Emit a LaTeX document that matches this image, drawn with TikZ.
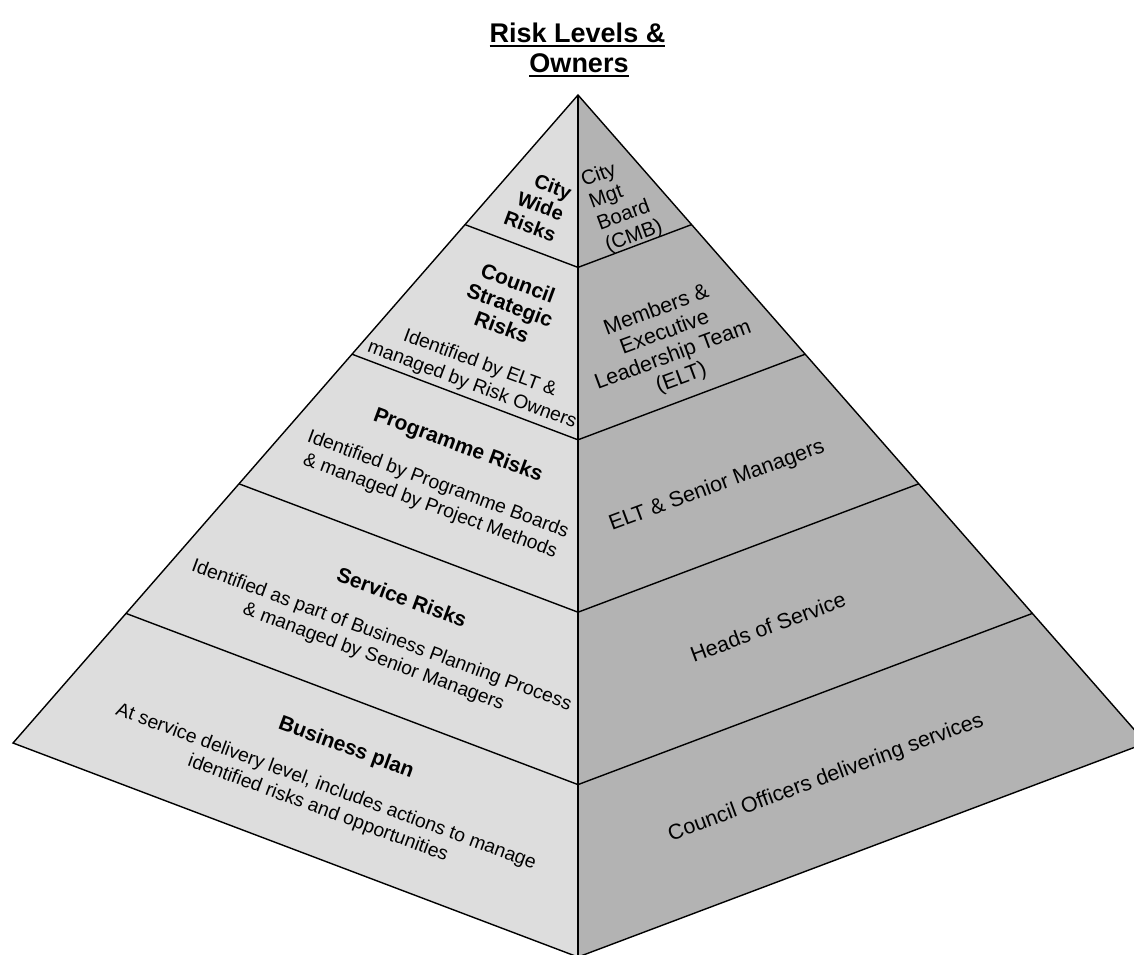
\documentclass[tikz,border=0pt]{standalone}
\usepackage{fontspec}
\setmainfont{Liberation Sans}
\usetikzlibrary{calc}

\definecolor{faceleft}{gray}{0.867}
\definecolor{faceright}{gray}{0.702}

\begin{document}
\begin{tikzpicture}[x=1pt,y=-1pt,inner sep=0pt,outer sep=0pt,
    edge_line/.style={draw=black,line width=1.4pt},
    title_txt/.style={anchor=base,font=\fontsize{27}{32}\selectfont\bfseries},
    left_head/.style={rotate=-20.3,align=center,font=\fontsize{21}{23.5}\selectfont\bfseries},
    left_text/.style={rotate=-20.3,align=center,font=\fontsize{19.3}{23}\selectfont},
    right_text/.style={rotate=20.3,align=center,font=\fontsize{21.5}{24}\selectfont}]
    \useasboundingbox (0,0) rectangle (1134,954);
    \clip (0,0) rectangle (1134,954);

    % pyramid corners
    \coordinate (apex) at (578,95);
    \coordinate (base_l) at (13,743);
    \coordinate (base_c) at (578,957);
    \coordinate (base_r) at (1146,743);

    % faces
    \fill[faceleft] (apex) -- (base_l) -- (base_c) -- cycle;
    \fill[faceright] (apex) -- (base_c) -- (base_r) -- cycle;

    % level boundaries
    \foreach \k in {1,2,3,4}
        \draw[edge_line] ($(apex)!\k/5!(base_l)$) -- ($(apex)!\k/5!(base_c)$) -- ($(apex)!\k/5!(base_r)$);
    \draw[edge_line] (apex) -- (base_l) -- (base_c) -- (base_r) -- cycle;
    \draw[edge_line] (apex) -- (base_c);

    % title
    \node[title_txt] (title_top) at (577.5,42) {Risk Levels \&};
    \node[title_txt] (title_bot) at (579,72.5) {Owners};
    \draw[line width=2pt] ($(title_top.base west)+(0,3.5)$) -- ($(title_top.base east)+(0,3.5)$);
    \draw[line width=2pt] ($(title_bot.base west)+(0,3.5)$) -- ($(title_bot.base east)+(0,3.5)$);

    % risk levels (left face)
    \node[left_head,align=right,font=\fontsize{20}{22.5}\selectfont\bfseries] (city_wide) at (538,205) {City\\Wide\\Risks};
    \node[left_head] (council_strat) at (510,305) {Council\\Strategic\\Risks};
    \node[left_text] (council_strat_txt) at (476,374.5)
    {Identified by ELT \&\\managed by Risk Owners};
    \node[left_head] (prog_risks) at (458,446) {Programme Risks};
    \node[left_text] (prog_risks_txt) at (434,495.5)
    {Identified by Programme Boards\\\& managed by Project Methods};
    \node[left_head] (service_risks) at (402,597) {Service Risks};
    \node[left_text] (service_risks_txt) at (377.5,646.5)
    {Identified as part of Business Planning Process\\\& managed by Senior Managers};
    \node[left_head] (business_plan) at (346,748) {Business plan};
    \node[left_text] (business_plan_txt) at (322,798)
    {At service delivery level, includes actions to manage\\identified risks and opportunities};

    % owners (right face)
    \node[right_text,align=left,font=\fontsize{20.5}{23}\selectfont] (city_mgt) at (622,204) {City\\Mgt\\Board\\(CMB)};
    \node[right_text] (members_elt) at (669,344.5)
    {Members \&\\Executive\\Leadership Team\\(ELT)};
    \node[right_text] (elt_senior) at (717,486) {ELT \& Senior Managers};
    \node[right_text] (heads_service) at (768,627) {Heads of Service};
    \node[right_text] (council_officers) at (826,778) {Council Officers delivering services};
\end{tikzpicture}
\end{document}
